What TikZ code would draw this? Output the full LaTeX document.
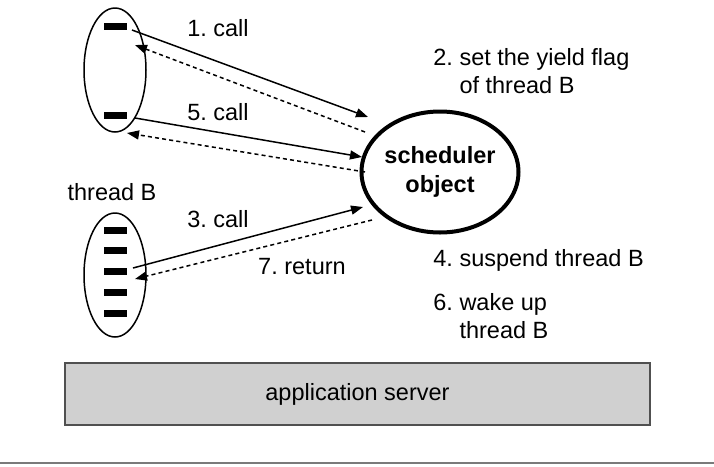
\documentclass[tikz,border=0pt]{standalone}
\usepackage{fontspec}
\setmainfont{Liberation Sans}
\usepackage{tikz}
\usetikzlibrary{arrows.meta,calc,positioning,shapes.geometric}
\definecolor{boxfill}{HTML}{D0D0D0}
\definecolor{boxline}{HTML}{505050}
\definecolor{rulegray}{HTML}{7A7A7A}
\tikzset{callarrow/.style={-{Triangle[length=6pt,width=4.5pt]},line width=.75pt},retarrow/.style={callarrow,dash pattern=on 2pt off 1.6pt},threadbox/.style={draw,ellipse,line width=.75pt,minimum width=31pt,minimum height=62pt,inner sep=0pt},bar/.style={fill=black,minimum width=11.5pt,minimum height=3.5pt,inner sep=0pt},lbl/.style={anchor=west,align=left,inner sep=0pt}}
\frenchspacing
\begin{document}
\begin{tikzpicture}[x=.5pt,y=-.5pt,font=\fontsize{11.75}{14}\selectfont]
 \useasboundingbox (0,0) rectangle (714,467);
 % threads
 \node[threadbox] (tA) at (115,70) {}; \node[threadbox] (tB) at (115,275) {};
 \node[bar] (a1) at (115.5,26) {}; \node[bar] (a2) at (115.5,115) {};
 \foreach \i/\y in {1/230,2/250,3/271,4/292,5/313}{\node[bar] (b\i) at (115.5,\y) {};}
 \node (tBname) at (112,192) {thread B};
 % scheduler
 \node[draw,ellipse,line width=2pt,minimum width=63.5pt,minimum height=60.5pt,inner sep=0pt,align=center,font=\fontsize{11.75}{14.5}\selectfont\bfseries] (sched) at (440,172) {scheduler\\object};
 \coordinate (s1) at (368,117); \coordinate (r1) at (365,132); \coordinate (s5) at (362,157); \coordinate (r5) at (365,172); \coordinate (s3) at (363,207); \coordinate (r7) at (372,220);
 \coordinate (a1out) at (132,30); \coordinate (a1in) at (135,45); \coordinate (a2out) at (135,118); \coordinate (a2in) at (127,133); \coordinate (b3out) at (133,268); \coordinate (b3in) at (135,279);
 % calls and returns
 \draw[callarrow] (a1out) -- (s1); \draw[retarrow] (r1) -- (a1in);
 \draw[callarrow] (a2out) -- (s5); \draw[retarrow] (r5) -- (a2in);
 \draw[callarrow] (b3out) -- (s3); \draw[retarrow] (r7) -- (b3in);
 \node (lcall1) at (218,28) {1. call}; \node (lcall5) at (218,112) {5. call}; \node (lcall3) at (218,219) {3. call}; \node (lret7) at (302,267) {7. return};
 % scheduler actions
 \node[lbl] (act2) at (433,71) {2.~set the yield flag\\\hphantom{2.~}of thread B};
 \node[lbl] (act4) at (433,260) {4.~suspend thread B};
 \node[lbl] (act6) at (433,316) {6.~wake up\\\hphantom{6.~}thread B};
 % server
 \node[draw=boxline,fill=boxfill,line width=.8pt,minimum width=292.5pt,minimum height=31pt] (server) at (357.5,394) {application server};
 \draw[rulegray,line width=1pt] (0,463) -- (714,463);
\end{tikzpicture}
\end{document}
